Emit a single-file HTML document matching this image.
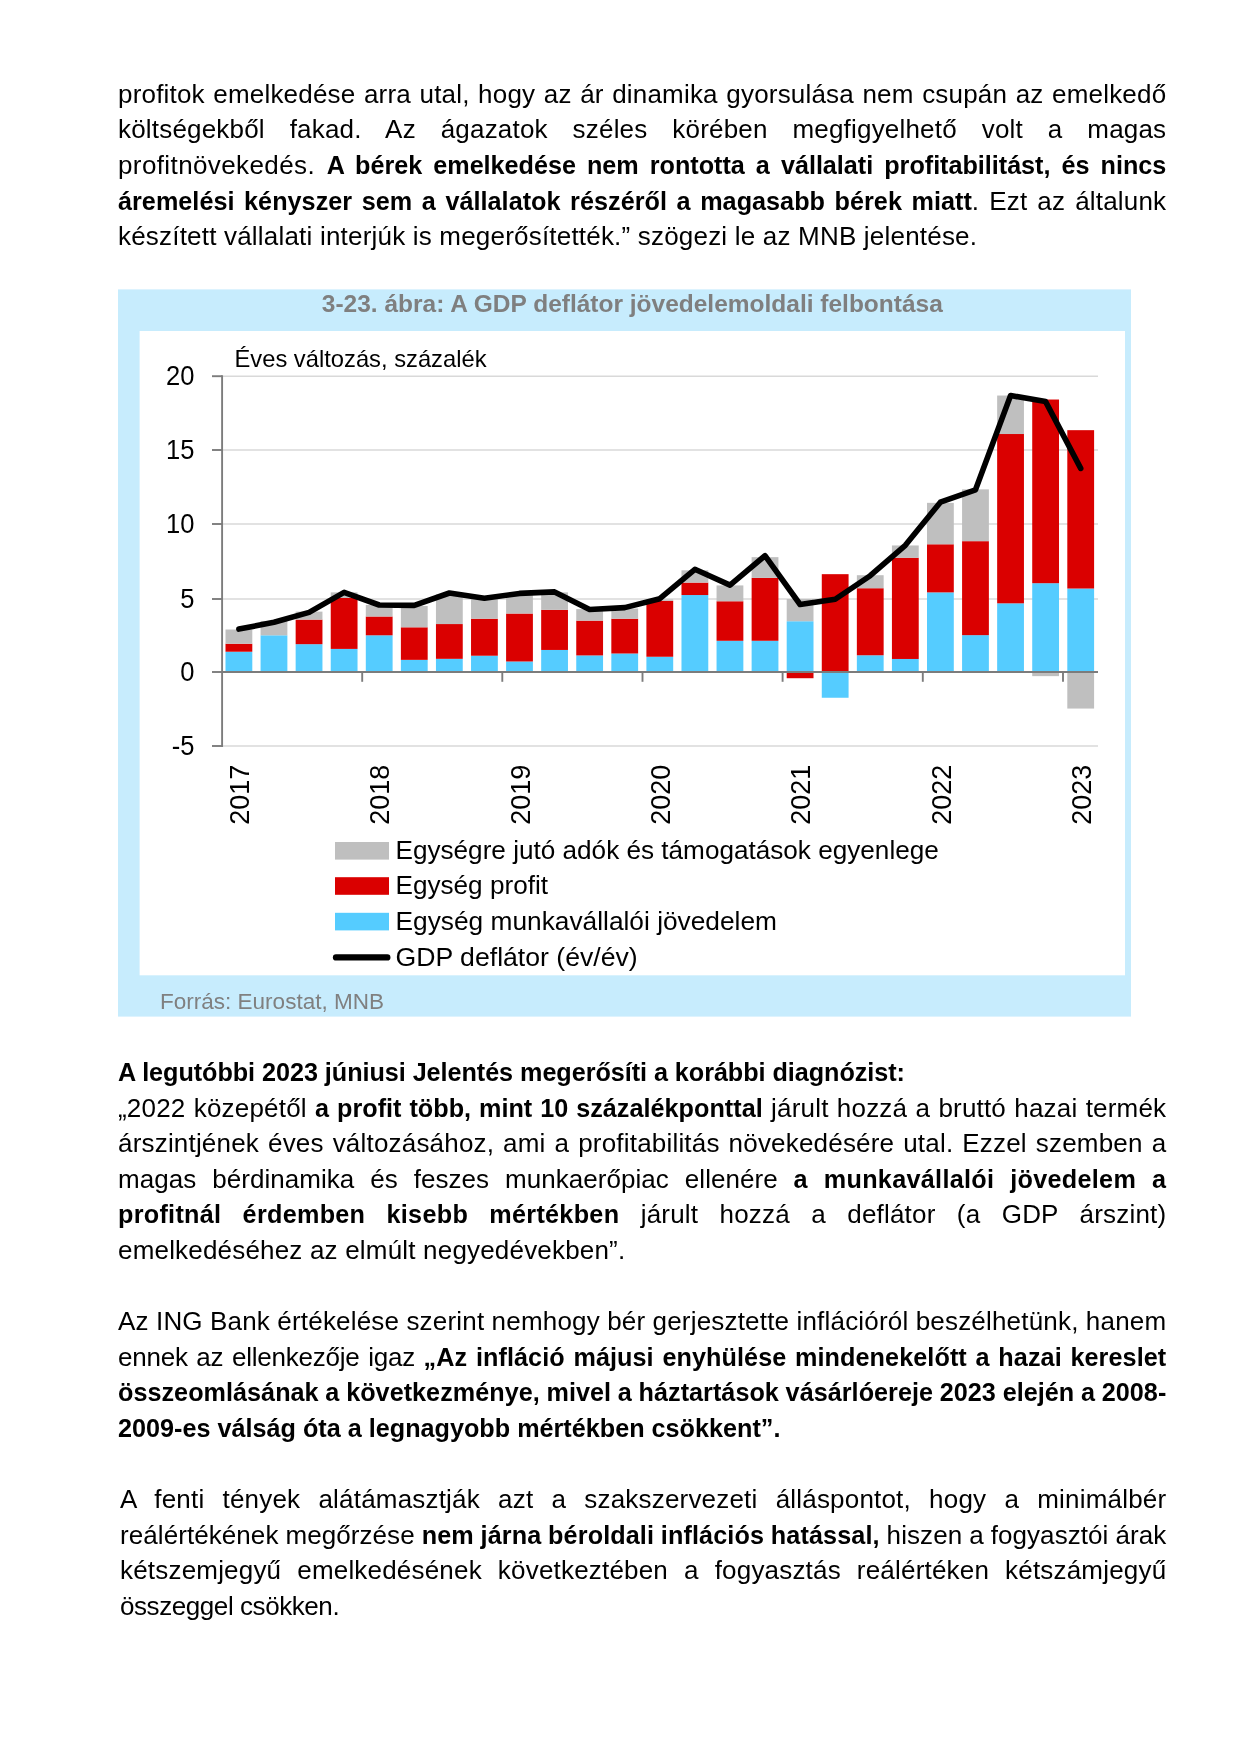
<!DOCTYPE html>
<html><head><meta charset="utf-8"><title>page</title>
<style>
html,body{margin:0;padding:0;background:#fff;}
body{width:1241px;height:1755px;position:relative;overflow:hidden;font-family:"Liberation Sans",sans-serif;color:#000;}
.l{position:absolute;white-space:nowrap;will-change:transform;font-size:26.0px;line-height:36.0px;height:36.0px;letter-spacing:0.19px;}
.j{text-align:justify;text-align-last:justify;white-space:normal;}
.l b{font-size:25.2px;font-weight:bold;letter-spacing:0.03px;}
svg{position:absolute;left:0;top:0;will-change:transform;}
svg text{font-family:"Liberation Sans",sans-serif;}
</style></head><body>

<svg width="1241" height="1755" viewBox="0 0 1241 1755">
<rect x="118" y="289.4" width="1013" height="727.2" fill="#C7ECFD"/>
<rect x="139.6" y="331" width="985.4" height="644.3" fill="#FFFFFF"/>
<text x="632.3" y="312.1" text-anchor="middle" font-size="24" font-weight="bold" fill="#7F7F7F" textLength="621" lengthAdjust="spacingAndGlyphs">3-23. ábra: A GDP deflátor jövedelemoldali felbontása</text>
<line x1="222.0" x2="1098.0" y1="376.2" y2="376.2" stroke="#D9D9D9" stroke-width="1.5"/>
<line x1="222.0" x2="1098.0" y1="450.0" y2="450.0" stroke="#D9D9D9" stroke-width="1.5"/>
<line x1="222.0" x2="1098.0" y1="524.0" y2="524.0" stroke="#D9D9D9" stroke-width="1.5"/>
<line x1="222.0" x2="1098.0" y1="599.0" y2="599.0" stroke="#D9D9D9" stroke-width="1.5"/>
<line x1="222.0" x2="1098.0" y1="746.0" y2="746.0" stroke="#D9D9D9" stroke-width="1.5"/>
<rect x="225.50" y="651.72" width="26.80" height="20.28" fill="#55CCFF"/>
<rect x="225.50" y="643.73" width="26.80" height="7.99" fill="#DA0000"/>
<rect x="225.50" y="629.52" width="26.80" height="14.21" fill="#BFBFBF"/>
<rect x="260.57" y="635.30" width="26.80" height="36.70" fill="#55CCFF"/>
<rect x="260.57" y="620.94" width="26.80" height="14.36" fill="#BFBFBF"/>
<rect x="295.65" y="644.18" width="26.80" height="27.82" fill="#55CCFF"/>
<rect x="295.65" y="619.61" width="26.80" height="24.57" fill="#DA0000"/>
<rect x="295.65" y="611.62" width="26.80" height="7.99" fill="#BFBFBF"/>
<rect x="330.73" y="648.91" width="26.80" height="23.09" fill="#55CCFF"/>
<rect x="330.73" y="598.00" width="26.80" height="50.91" fill="#DA0000"/>
<rect x="330.73" y="592.38" width="26.80" height="5.62" fill="#BFBFBF"/>
<rect x="365.80" y="635.30" width="26.80" height="36.70" fill="#55CCFF"/>
<rect x="365.80" y="616.50" width="26.80" height="18.80" fill="#DA0000"/>
<rect x="365.80" y="604.96" width="26.80" height="11.54" fill="#BFBFBF"/>
<rect x="400.88" y="659.86" width="26.80" height="12.14" fill="#55CCFF"/>
<rect x="400.88" y="627.30" width="26.80" height="32.56" fill="#DA0000"/>
<rect x="400.88" y="605.99" width="26.80" height="21.31" fill="#BFBFBF"/>
<rect x="435.95" y="658.83" width="26.80" height="13.17" fill="#55CCFF"/>
<rect x="435.95" y="624.05" width="26.80" height="34.78" fill="#DA0000"/>
<rect x="435.95" y="594.45" width="26.80" height="29.60" fill="#BFBFBF"/>
<rect x="471.03" y="655.72" width="26.80" height="16.28" fill="#55CCFF"/>
<rect x="471.03" y="618.72" width="26.80" height="37.00" fill="#DA0000"/>
<rect x="471.03" y="596.52" width="26.80" height="22.20" fill="#BFBFBF"/>
<rect x="506.10" y="661.49" width="26.80" height="10.51" fill="#55CCFF"/>
<rect x="506.10" y="613.54" width="26.80" height="47.95" fill="#DA0000"/>
<rect x="506.10" y="594.45" width="26.80" height="19.09" fill="#BFBFBF"/>
<rect x="541.17" y="649.95" width="26.80" height="22.05" fill="#55CCFF"/>
<rect x="541.17" y="609.84" width="26.80" height="40.11" fill="#DA0000"/>
<rect x="541.17" y="592.38" width="26.80" height="17.46" fill="#BFBFBF"/>
<rect x="576.25" y="655.42" width="26.80" height="16.58" fill="#55CCFF"/>
<rect x="576.25" y="620.64" width="26.80" height="34.78" fill="#DA0000"/>
<rect x="576.25" y="609.10" width="26.80" height="11.54" fill="#BFBFBF"/>
<rect x="611.33" y="653.50" width="26.80" height="18.50" fill="#55CCFF"/>
<rect x="611.33" y="618.72" width="26.80" height="34.78" fill="#DA0000"/>
<rect x="611.33" y="608.51" width="26.80" height="10.21" fill="#BFBFBF"/>
<rect x="646.40" y="656.76" width="26.80" height="15.24" fill="#55CCFF"/>
<rect x="646.40" y="600.81" width="26.80" height="55.94" fill="#DA0000"/>
<rect x="646.40" y="599.48" width="26.80" height="1.33" fill="#BFBFBF"/>
<rect x="681.48" y="595.04" width="26.80" height="76.96" fill="#55CCFF"/>
<rect x="681.48" y="582.61" width="26.80" height="12.43" fill="#DA0000"/>
<rect x="681.48" y="570.32" width="26.80" height="12.28" fill="#BFBFBF"/>
<rect x="716.55" y="640.77" width="26.80" height="31.23" fill="#55CCFF"/>
<rect x="716.55" y="601.26" width="26.80" height="39.52" fill="#DA0000"/>
<rect x="716.55" y="585.42" width="26.80" height="15.84" fill="#BFBFBF"/>
<rect x="751.62" y="640.77" width="26.80" height="31.23" fill="#55CCFF"/>
<rect x="751.62" y="577.87" width="26.80" height="62.90" fill="#DA0000"/>
<rect x="751.62" y="557.15" width="26.80" height="20.72" fill="#BFBFBF"/>
<rect x="786.70" y="621.24" width="26.80" height="50.76" fill="#55CCFF"/>
<rect x="786.70" y="599.04" width="26.80" height="22.20" fill="#BFBFBF"/>
<rect x="786.70" y="672.00" width="26.80" height="6.22" fill="#DA0000"/>
<rect x="821.78" y="574.17" width="26.80" height="97.83" fill="#DA0000"/>
<rect x="821.78" y="672.00" width="26.80" height="25.75" fill="#55CCFF"/>
<rect x="856.85" y="655.28" width="26.80" height="16.72" fill="#55CCFF"/>
<rect x="856.85" y="588.23" width="26.80" height="67.04" fill="#DA0000"/>
<rect x="856.85" y="575.21" width="26.80" height="13.02" fill="#BFBFBF"/>
<rect x="891.93" y="658.98" width="26.80" height="13.02" fill="#55CCFF"/>
<rect x="891.93" y="557.74" width="26.80" height="101.23" fill="#DA0000"/>
<rect x="891.93" y="545.46" width="26.80" height="12.28" fill="#BFBFBF"/>
<rect x="927.00" y="592.38" width="26.80" height="79.62" fill="#55CCFF"/>
<rect x="927.00" y="544.28" width="26.80" height="48.10" fill="#DA0000"/>
<rect x="927.00" y="502.84" width="26.80" height="41.44" fill="#BFBFBF"/>
<rect x="962.08" y="635.15" width="26.80" height="36.85" fill="#55CCFF"/>
<rect x="962.08" y="541.17" width="26.80" height="93.98" fill="#DA0000"/>
<rect x="962.08" y="489.37" width="26.80" height="51.80" fill="#BFBFBF"/>
<rect x="997.15" y="603.33" width="26.80" height="68.67" fill="#55CCFF"/>
<rect x="997.15" y="434.02" width="26.80" height="169.31" fill="#DA0000"/>
<rect x="997.15" y="395.54" width="26.80" height="38.48" fill="#BFBFBF"/>
<rect x="1032.22" y="583.20" width="26.80" height="88.80" fill="#55CCFF"/>
<rect x="1032.22" y="399.53" width="26.80" height="183.67" fill="#DA0000"/>
<rect x="1032.22" y="672.00" width="26.80" height="4.14" fill="#BFBFBF"/>
<rect x="1067.30" y="588.53" width="26.80" height="83.47" fill="#55CCFF"/>
<rect x="1067.30" y="430.17" width="26.80" height="158.36" fill="#DA0000"/>
<rect x="1067.30" y="672.00" width="26.80" height="36.56" fill="#BFBFBF"/>
<line x1="222.1" x2="222.1" y1="375.3" y2="746.9" stroke="#7C7C7C" stroke-width="1.9"/>
<line x1="212.0" x2="222.0" y1="376.2" y2="376.2" stroke="#7C7C7C" stroke-width="1.9"/>
<line x1="212.0" x2="222.0" y1="450.0" y2="450.0" stroke="#7C7C7C" stroke-width="1.9"/>
<line x1="212.0" x2="222.0" y1="524.0" y2="524.0" stroke="#7C7C7C" stroke-width="1.9"/>
<line x1="212.0" x2="222.0" y1="599.0" y2="599.0" stroke="#7C7C7C" stroke-width="1.9"/>
<line x1="212.0" x2="222.0" y1="672.0" y2="672.0" stroke="#7C7C7C" stroke-width="1.9"/>
<line x1="212.0" x2="222.0" y1="746.0" y2="746.0" stroke="#7C7C7C" stroke-width="1.9"/>
<line x1="222.0" x2="1098.0" y1="672.0" y2="672.0" stroke="#7C7C7C" stroke-width="2"/>
<line x1="362.2" x2="362.2" y1="672.0" y2="681.8" stroke="#7C7C7C" stroke-width="1.9"/>
<line x1="502.3" x2="502.3" y1="672.0" y2="681.8" stroke="#7C7C7C" stroke-width="1.9"/>
<line x1="642.5" x2="642.5" y1="672.0" y2="681.8" stroke="#7C7C7C" stroke-width="1.9"/>
<line x1="782.6" x2="782.6" y1="672.0" y2="681.8" stroke="#7C7C7C" stroke-width="1.9"/>
<line x1="922.8" x2="922.8" y1="672.0" y2="681.8" stroke="#7C7C7C" stroke-width="1.9"/>
<line x1="1063.0" x2="1063.0" y1="672.0" y2="681.8" stroke="#7C7C7C" stroke-width="1.9"/>
<polyline points="238.9,629.1 274.0,622.3 309.1,612.4 344.1,592.4 379.2,605.0 414.3,605.4 449.4,593.0 484.4,598.3 519.5,593.4 554.6,591.9 589.6,609.5 624.7,607.6 659.8,598.7 694.9,569.3 730.0,585.1 765.0,555.7 800.1,604.5 835.2,599.3 870.2,575.7 905.3,545.3 940.4,502.2 975.5,489.8 1010.6,395.5 1045.6,401.6 1080.7,468.4" fill="none" stroke="#000" stroke-width="5.6" stroke-linejoin="round" stroke-linecap="round"/>
<text transform="translate(194.4,385.2) scale(0.96,1.04)" text-anchor="end" font-size="26.6" fill="#000">20</text>
<text transform="translate(194.4,459.0) scale(0.96,1.04)" text-anchor="end" font-size="26.6" fill="#000">15</text>
<text transform="translate(194.4,533.0) scale(0.96,1.04)" text-anchor="end" font-size="26.6" fill="#000">10</text>
<text transform="translate(194.4,608.0) scale(0.96,1.04)" text-anchor="end" font-size="26.6" fill="#000">5</text>
<text transform="translate(194.4,681.0) scale(0.96,1.04)" text-anchor="end" font-size="26.6" fill="#000">0</text>
<text transform="translate(194.4,755.0) scale(0.96,1.04)" text-anchor="end" font-size="26.6" fill="#000">-5</text>
<text x="234.5" y="367.2" font-size="23.4" fill="#000" textLength="252" lengthAdjust="spacingAndGlyphs">Éves változás, százalék</text>
<text transform="translate(249.1,764.6) rotate(-90)" text-anchor="end" font-size="27" fill="#000">2017</text>
<text transform="translate(389.4,764.6) rotate(-90)" text-anchor="end" font-size="27" fill="#000">2018</text>
<text transform="translate(529.7,764.6) rotate(-90)" text-anchor="end" font-size="27" fill="#000">2019</text>
<text transform="translate(670.0,764.6) rotate(-90)" text-anchor="end" font-size="27" fill="#000">2020</text>
<text transform="translate(810.3,764.6) rotate(-90)" text-anchor="end" font-size="27" fill="#000">2021</text>
<text transform="translate(950.6,764.6) rotate(-90)" text-anchor="end" font-size="27" fill="#000">2022</text>
<text transform="translate(1090.9,764.6) rotate(-90)" text-anchor="end" font-size="27" fill="#000">2023</text>
<rect x="335" y="842.0" width="54" height="17.6" fill="#BFBFBF"/>
<rect x="335" y="877.2" width="54" height="17.6" fill="#DA0000"/>
<rect x="335" y="912.8" width="54" height="17.6" fill="#55CCFF"/>
<line x1="336" x2="387.3" y1="957.4" y2="957.4" stroke="#000" stroke-width="6.3" stroke-linecap="round"/>
<text x="395.5" y="859.2" font-size="25.4" fill="#000" textLength="543.3" lengthAdjust="spacingAndGlyphs">Egységre jutó adók és támogatások egyenlege</text>
<text x="395.5" y="894.4" font-size="25.4" fill="#000" textLength="152.5" lengthAdjust="spacingAndGlyphs">Egység profit</text>
<text x="395.5" y="930.0" font-size="25.4" fill="#000" textLength="381.5" lengthAdjust="spacingAndGlyphs">Egység munkavállalói jövedelem</text>
<text x="395.5" y="965.6" font-size="25.4" fill="#000" textLength="242.2" lengthAdjust="spacingAndGlyphs">GDP deflátor (év/év)</text>
<text x="160" y="1009.2" font-size="21.6" fill="#808080" textLength="224" lengthAdjust="spacingAndGlyphs">Forrás: Eurostat, MNB</text>
</svg>
<div class="l" style="top:76.00px;left:118.10px;word-spacing:1.121px">profitok emelkedése arra utal, hogy az ár dinamika gyorsulása nem csupán az emelkedő</div>
<div class="l" style="top:111.00px;left:118.10px;word-spacing:17.459px">költségekből fakad. Az ágazatok széles körében megfigyelhető volt a magas</div>
<div class="l" style="top:147.00px;left:118.10px;word-spacing:4.108px;letter-spacing:0.390px">profitnövekedés. <b style="letter-spacing:-0.020px">A bérek emelkedése nem rontotta a vállalati profitabilitást, és nincs</b></div>
<div class="l" style="top:183.00px;left:118.10px;word-spacing:2.554px"><b>áremelési kényszer sem a vállalatok részéről a magasabb bérek miatt</b>. Ezt az általunk</div>
<div class="l" style="top:218.00px;left:118.10px;letter-spacing:0.198px">készített vállalati interjúk is megerősítették.” szögezi le az MNB jelentése.</div>
<div class="l" style="top:1054.00px;left:118.10px;"><b style="letter-spacing:-0.045px">A legutóbbi 2023 júniusi Jelentés megerősíti a korábbi diagnózist:</b></div>
<div class="l" style="top:1090.00px;left:118.10px;word-spacing:0.872px">„2022 közepétől <b>a profit több, mint 10 százalékponttal</b> járult hozzá a bruttó hazai termék</div>
<div class="l" style="top:1125.00px;left:118.10px;word-spacing:1.578px">árszintjének éves változásához, ami a profitabilitás növekedésére utal. Ezzel szemben a</div>
<div class="l" style="top:1161.00px;left:118.10px;word-spacing:8.608px;letter-spacing:0.050px">magas bérdinamika és feszes munkaerőpiac ellenére <b style="letter-spacing:0.300px">a munkavállalói jövedelem a</b></div>
<div class="l" style="top:1196.00px;left:118.10px;word-spacing:13.953px;letter-spacing:0.190px"><b style="letter-spacing:0.290px">profitnál érdemben kisebb mértékben</b> járult hozzá a deflátor (a GDP árszint)</div>
<div class="l" style="top:1232.00px;left:118.10px;letter-spacing:0.187px">emelkedéséhez az elmúlt negyedévekben”.</div>
<div class="l" style="top:1303.00px;left:118.10px;word-spacing:-0.154px">Az ING Bank értékelése szerint nemhogy bér gerjesztette inflációról beszélhetünk, hanem</div>
<div class="l" style="top:1339.00px;left:118.10px;word-spacing:1.637px;letter-spacing:-0.230px">ennek az ellenkezője igaz <b style="letter-spacing:0.080px">„Az infláció májusi enyhülése mindenekelőtt a hazai kereslet</b></div>
<div class="l" style="top:1374.00px;left:118.10px;word-spacing:-0.293px"><b>összeomlásának a következménye, mivel a háztartások vásárlóereje 2023 elején a 2008-</b></div>
<div class="l" style="top:1410.00px;left:118.10px;"><b style="letter-spacing:0.005px">2009-es válság óta a legnagyobb mértékben csökkent”.</b></div>
<div class="l" style="top:1481.00px;left:120.10px;word-spacing:10.764px">A fenti tények alátámasztják azt a szakszervezeti álláspontot, hogy a minimálbér</div>
<div class="l" style="top:1517.00px;left:120.10px;word-spacing:-0.312px;letter-spacing:0.070px">reálértékének megőrzése <b style="letter-spacing:0.110px">nem járna béroldali inflációs hatással,</b> hiszen a fogyasztói árak</div>
<div class="l" style="top:1552.00px;left:120.10px;word-spacing:8.602px">kétszemjegyű emelkedésének következtében a fogyasztás reálértéken kétszámjegyű</div>
<div class="l" style="top:1588.00px;left:120.10px;letter-spacing:-0.428px">összeggel csökken.</div>
</body></html>
